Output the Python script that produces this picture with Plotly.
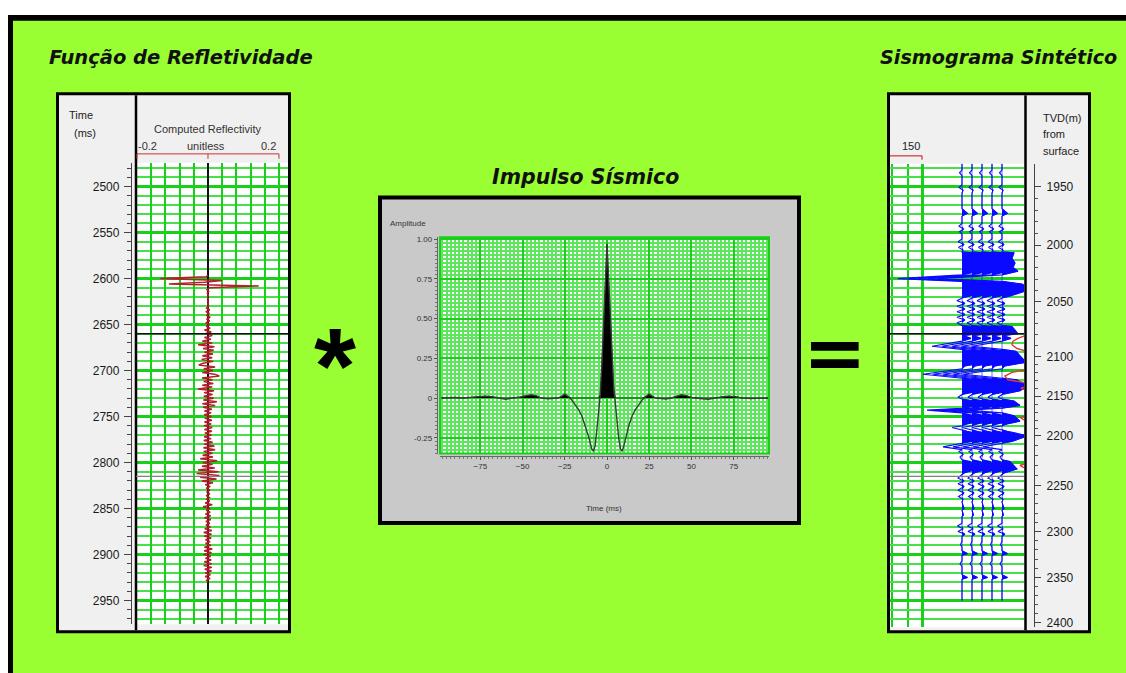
import numpy as np
import plotly.graph_objects as go

W, H = 1126, 673

# ---------------- DATA ----------------
# Reflectivity log (left track), regular sampling
refl_t0 = 2596      # ms
refl_dt = 2         # ms
refl_values = [
    0.0, -0.005, -0.134, 0.040, -0.010, -0.110, 0.143, 0.004, -0.003, 0.002,
    -0.002, 0.001, -0.001, 0.001, -0.001, 0.001, -0.001, 0.002, -0.004, 0.005,
    -0.006, 0.004, -0.005, 0.006, -0.004, 0.005, -0.006, 0.004, -0.005, 0.006,
    -0.010, 0.009, -0.008, 0.012, -0.010, 0.008, -0.016, 0.012, -0.028, 0.018,
    -0.014, 0.016, -0.010, 0.014, -0.016, 0.012, -0.018, 0.015, -0.013, -0.026,
    0.020, -0.012, 0.014, -0.016, 0.018, 0.032, -0.017, 0.013, -0.012, 0.015,
    -0.016, 0.012, -0.028, 0.017, -0.011, 0.013, -0.012, 0.016, -0.013, 0.025,
    -0.016, 0.020, -0.014, 0.011, -0.010, 0.009, -0.011, 0.010, -0.009, 0.011,
    -0.010, 0.009, -0.011, 0.012, -0.010, 0.011, -0.009, 0.010, -0.011, 0.009,
    -0.012, 0.013, -0.011, 0.018, -0.013, 0.020, -0.012, 0.013, -0.015, 0.014,
    -0.022, 0.026, -0.015, 0.013, -0.017, 0.019, -0.028, 0.030, -0.032, 0.032,
    -0.022, 0.024, -0.017, 0.014, -0.008, 0.006, -0.005, 0.006, -0.004, 0.005,
    -0.005, 0.004, -0.004, 0.005, -0.008, 0.012, -0.014, 0.006, -0.005, 0.006,
    -0.007, 0.008, -0.010, 0.008, -0.006, 0.005, -0.006, 0.007, -0.009, 0.011,
    -0.012, 0.010, -0.011, 0.009, -0.007, 0.006, -0.007, 0.008, -0.010, 0.012,
    -0.011, 0.010, -0.012, 0.008, -0.007, 0.009, -0.011, 0.010, -0.012, 0.011,
    -0.009, 0.010, -0.008, 0.007, -0.008, 0.006, -0.004, 0.0,
]
refl_scale_ticks = [-0.2, 0.0, 0.2]

# horizontal marker lines (ms)
marker_black_ms = 2660
marker_grey_ms = 2815

# Seismic wavelet (middle)
wavelet_time = [-98, -90, -85, -80, -76, -72, -68, -64, -60, -56,
                -52, -48, -45, -42, -39, -35, -32, -29, -27, -25,
                -23, -21, -19, -17, -15, -13, -11, -10, -9, -8,
                -7, -6, -5, -4, -3, -2, -1, 0, 1, 2,
                3, 4, 5, 6, 7, 8, 9, 10, 11, 13,
                15, 17, 19, 21, 23, 25, 27, 29, 32, 35,
                38, 41, 44, 47, 50, 55, 60, 64, 68, 72,
                76, 80, 85, 90, 96]
wavelet_amp = [0.0, 0.003, 0.0, 0.005, 0.01, 0.012, 0.008, 0.0, -0.008, 0.0,
               0.005, 0.015, 0.02, 0.015, 0.0, -0.005, -0.003, 0.0, 0.01, 0.025,
               0.01, -0.01, -0.04, -0.07, -0.11, -0.17, -0.24, -0.28, -0.32, -0.335,
               -0.30, -0.20, -0.08, 0.02, 0.22, 0.45, 0.72, 0.97, 0.74, 0.48,
               0.26, 0.06, -0.04, -0.15, -0.26, -0.32, -0.335, -0.30, -0.25, -0.17,
               -0.11, -0.07, -0.04, -0.01, 0.01, 0.025, 0.01, 0.0, -0.003, -0.006,
               0.0, 0.012, 0.02, 0.015, 0.003, -0.003, -0.008, 0.0, 0.008, 0.012,
               0.008, 0.0, -0.003, 0.0, 0.0]
wavelet_xticks = [-75, -50, -25, 0, 25, 50, 75]
wavelet_yticks = [-0.25, 0, 0.25, 0.5, 0.75, 1.0]
wavelet_yticktext = ["-0.25", "0", "0.25", "0.50", "0.75", "1.00"]

# Synthetic seismogram (right), amplitude in trace-spacing units
syn_time = [2475, 2482, 2485, 2488, 2498, 2501, 2504, 2507, 2524, 2529,
            2532, 2540, 2543, 2546, 2549, 2552, 2557, 2560, 2563, 2566,
            2569, 2571, 2572, 2578, 2583, 2588, 2592, 2596, 2600, 2603,
            2606, 2610, 2614, 2619, 2621, 2624, 2627, 2630, 2633, 2636,
            2639, 2642, 2645, 2648, 2651, 2652, 2656, 2660, 2662, 2665,
            2668, 2673.5, 2677, 2679, 2684, 2691, 2695, 2698, 2704, 2708,
            2710, 2717, 2722, 2726, 2729, 2731, 2733, 2738, 2741, 2743,
            2746, 2749, 2755, 2758, 2760, 2762, 2764, 2766, 2771, 2777,
            2779, 2783, 2786, 2788, 2791, 2794, 2797, 2799, 2807, 2811,
            2813, 2817, 2820, 2823, 2826, 2830, 2833, 2837, 2840, 2843,
            2850, 2852, 2857, 2859, 2866, 2869, 2872, 2875, 2878, 2880,
            2886, 2889, 2892, 2896, 2899, 2901, 2907, 2910, 2913, 2922,
            2925, 2927, 2950]
syn_amp = [0, 0, -0.25, 0, 0, -0.3, 0.1, 0, 0, 0.55,
           0, 0, -0.3, 0.15, -0.25, 0, 0, -0.4, 0.2, -0.35,
           0.1, 0, 1.2, 1.0, 1.3, 1.1, 1.6, 0, -6.4, 0,
           2.0, 2.7, 2.2, 0.8, 0, -0.5, 0.3, -0.5, 0.3, -0.5,
           0.3, -0.5, 0.3, -0.5, 0, 1.0, 1.3, 1.6, 0.1, 0.9,
           0, -3.0, 0, 1.4, 1.8, 2.4, 0.3, 0, -3.9, 0,
           1.5, 2.5, 1.8, 0, -0.4, 0, 1.2, 1.8, 0, -3.5,
           0, 1.2, 1.8, 0.5, 0, -1.0, -0.3, 0.5, 2.6, 1.0,
           0, -1.9, 0, -0.3, 0.1, -0.2, 0, 0.8, 1.5, 0.3,
           0, -0.4, 0.2, -0.4, 0.2, -0.4, 0.2, -0.35, 0.1, 0,
           0.2, 0, 0.15, 0, 0, -0.45, 0.1, -0.4, 0.3, 0,
           0, -0.15, 0, 0, 0.55, 0, 0, -0.2, 0, 0,
           0.55, 0, 0]
trace_numbers = [1, 2, 3, 4, 5]

# Red curve of the synthetic track (baseline just beyond the right edge)
red_baseline = 7.8
red_time = [2660, 2665, 2668, 2672, 2676, 2680, 2698, 2702, 2706, 2710,
            2714, 2716, 2719, 2721, 2724, 2748, 2751, 2753, 2756, 2800,
            2803, 2805, 2808]
red_amp = [0, -1.2, -1.7, -1.8, -1.3, 0, 0, -1.8, -2.5, -2.2,
           0, 0, -0.9, -0.5, 0, 0, -1.0, -0.7, 0, 0,
           -1.0, -0.7, 0]

synthetic_track_grid_major = [-3.0]
synthetic_track_grid_minor = [-6.0, -4.4]
synthetic_scale_label = "150"

# Time-depth table for the synthetic track (TVD m from surface -> time ms)
depth_labels = [1950, 2000, 2050, 2100, 2150, 2200, 2250, 2300, 2350, 2400]
depth_time_ms = [2500, 2563.7, 2625.3, 2684.7, 2727.9, 2771.1, 2825.1, 2874.8, 2925.5, 2974.1]

# ---------------- LAYOUT HELPERS ----------------
def px(x):
    return x / W

def py(y):
    return 1 - y / H

MS_PER_PX = 50 / 46.33

def t_at(y):  # time at a pixel row of the log tracks
    return 2500 + (y - 186) * MS_PER_PX

GREEN_BG = "#99ff33"
G_MAJ = "#19cf19"
G_MIN = "#48e048"
G_FINE = "#5ee65e"
PANEL_GREY = "#f0f0f0"
MID_GREY = "#c9c9c9"
TXT = "#222222"
SANS = "Liberation Sans"

def title_font(size):
    return dict(family="DejaVu Sans", size=size, color="#111111", weight="bold", style="italic")

shapes = []

def rect(x0, y0, x1, y1, fill, layer="below", line=None, lw=0):
    shapes.append(dict(type="rect", xref="paper", yref="paper",
                       x0=px(x0), x1=px(x1), y0=py(y1), y1=py(y0),
                       fillcolor=fill, layer=layer,
                       line=dict(color=line or "rgba(0,0,0,0)", width=lw)))

def vline(x, y0, y1, color, width, layer="above"):
    shapes.append(dict(type="line", xref="paper", yref="paper",
                       x0=px(x), x1=px(x), y0=py(y0), y1=py(y1),
                       line=dict(color=color, width=width), layer=layer))

# outer frame
rect(8, 13, 1160, 700, "black")
rect(13, 19, 1160, 700, GREEN_BG)

# left panel
rect(56, 91, 291, 636, "black")
rect(59, 94, 288, 633, PANEL_GREY)
rect(136, 162, 288, 627, "white")
# middle panel
rect(378, 195, 801, 527, "black")
rect(382, 199, 797, 523, MID_GREY)
rect(440, 237, 769, 455, "white")
# right panel
rect(887, 91, 1091, 636, "black")
rect(890, 94, 1088, 633, PANEL_GREY)
rect(890, 163, 1024, 630, "white")

# dividers
vline(136, 94, 633, "black", 2.5)
vline(1025.5, 94, 633, "black", 2.5)

# marker lines across both log tracks
for xr, yr in (("x", "y"), ("x4", "y4")):
    shapes.append(dict(type="line", xref=f"{xr} domain", yref=yr, x0=0, x1=1,
                       y0=marker_black_ms, y1=marker_black_ms,
                       line=dict(color="#111111", width=1.6), layer="above"))
    shapes.append(dict(type="line", xref=f"{xr} domain", yref=yr, x0=0, x1=1,
                       y0=marker_grey_ms, y1=marker_grey_ms,
                       line=dict(color="#808080", width=1.3), layer="above"))

# reflectivity scale bar (header)
RED = "#cc3333"
shapes.append(dict(type="line", xref="x", yref="paper", x0=refl_scale_ticks[0], x1=refl_scale_ticks[-1],
                   y0=py(153), y1=py(153), line=dict(color=RED, width=1)))
for v in refl_scale_ticks:
    shapes.append(dict(type="line", xref="x", yref="paper", x0=v, x1=v,
                       y0=py(153), y1=py(158), line=dict(color=RED, width=1)))
# synthetic scale bar (header)
shapes.append(dict(type="line", xref="x4", yref="paper", x0=-6.2, x1=synthetic_track_grid_major[0],
                   y0=py(155), y1=py(155), line=dict(color=RED, width=1.2)))
shapes.append(dict(type="line", xref="x4", yref="paper", x0=synthetic_track_grid_major[0],
                   x1=synthetic_track_grid_major[0], y0=py(155), y1=py(159),
                   line=dict(color=RED, width=1.2)))

# green border around wavelet plot
shapes.append(dict(type="rect", xref="x3 domain", yref="y3 domain", x0=0, x1=1, y0=0, y1=1,
                   line=dict(color=G_MAJ, width=2), layer="above"))

# ---------------- TRACES ----------------
fig = go.Figure()

refl_time = refl_t0 + refl_dt * np.arange(len(refl_values))
fig.add_trace(go.Scatter(x=refl_values, y=refl_time, mode="lines",
                         line=dict(color="#b3202a", width=1.5),
                         xaxis="x", yaxis="y", hoverinfo="skip"))

wt = np.array(wavelet_time, dtype=float)
wa = np.array(wavelet_amp, dtype=float)
fig.add_trace(go.Scatter(x=wt, y=np.maximum(wa, 0), mode="lines", fill="tozeroy",
                         fillcolor="black", line=dict(color="black", width=0.5),
                         xaxis="x3", yaxis="y3", hoverinfo="skip"))
fig.add_trace(go.Scatter(x=wt, y=wa, mode="lines", line=dict(color="#3a3a3a", width=1.4),
                         xaxis="x3", yaxis="y3", hoverinfo="skip"))

st = np.array(syn_time, dtype=float)
sa = np.array(syn_amp, dtype=float)
BLUE = "#0a0aff"
for k in trace_numbers:
    fig.add_trace(go.Scatter(x=k + np.maximum(sa, 0), y=st, mode="lines", fill="toself",
                             fillcolor=BLUE, line=dict(color=BLUE, width=0.6),
                             xaxis="x4", yaxis="y4", hoverinfo="skip"))
for k in trace_numbers:
    fig.add_trace(go.Scatter(x=k + sa, y=st, mode="lines", line=dict(color=BLUE, width=1.1),
                             xaxis="x4", yaxis="y4", hoverinfo="skip"))

fig.add_trace(go.Scatter(x=red_baseline + np.array(red_amp), y=red_time, mode="lines",
                         line=dict(color="#e03a3a", width=1.4),
                         xaxis="x4", yaxis="y4", hoverinfo="skip"))

# invisible carrier for the depth axis
fig.add_trace(go.Scatter(x=[trace_numbers[0]] * len(depth_time_ms), y=depth_time_ms, mode="markers",
                         marker=dict(size=1, opacity=0), xaxis="x4", yaxis="y5", hoverinfo="skip"))

# minor depth ticks every 10 m
minor_depths = [d for d in range(depth_labels[0] + 10, depth_labels[-1], 10) if d % 50]
minor_depth_times = list(np.interp(minor_depths, depth_labels, depth_time_ms))

# ---------------- ANNOTATIONS ----------------
def ann(text, x, y, size=11, xanchor="center", color=TXT, family=SANS):
    return dict(text=text, x=px(x), y=py(y), xref="paper", yref="paper", showarrow=False,
                xanchor=xanchor, yanchor="middle", font=dict(family=family, size=size, color=color))

annotations = [
    dict(text="Função de Refletividade", x=px(47), y=py(56), xref="paper", yref="paper",
         showarrow=False, xanchor="left", yanchor="middle", font=title_font(19.5)),
    dict(text="Sismograma Sintético", x=px(1119), y=py(56), xref="paper", yref="paper",
         showarrow=False, xanchor="right", yanchor="middle", font=title_font(19.2)),
    dict(text="Impulso Sísmico", x=px(585), y=py(176), xref="paper", yref="paper",
         showarrow=False, xanchor="center", yanchor="middle", font=title_font(20.5)),
    dict(text="*", x=px(335), y=py(366), xref="paper", yref="paper", showarrow=False,
         xanchor="center", yanchor="middle",
         font=dict(family=SANS, size=108, color="black", weight="bold")),
    dict(text="=", x=px(835), y=py(353), xref="paper", yref="paper", showarrow=False,
         xanchor="center", yanchor="middle",
         font=dict(family="DejaVu Sans", size=76, color="black", weight="bold")),
    ann("Time", 81, 114),
    ann("(ms)", 85, 132),
    ann("Computed Reflectivity", 207, 128, color="#333333"),
    ann("-0.2", 136, 145, xanchor="left", color="#333333"),
    ann("unitless", 206, 145, color="#333333"),
    ann("0.2", 278, 145, xanchor="right", color="#333333"),
    ann("Amplitude", 388, 223, size=8, xanchor="left", color="#333333"),
    ann("Time (ms)", 604, 510, size=8, color="#333333"),
    ann("TVD(m)", 1041, 117, xanchor="left"),
    ann("from", 1041, 133, xanchor="left"),
    ann("surface", 1041, 150, xanchor="left"),
    ann(synthetic_scale_label, 911, 145),
]

# ---------------- AXES ----------------
tick_font = dict(family=SANS, size=12, color="#1a1a1a")
small_font = dict(family=SANS, size=8, color="#333333")

layout = dict(
    width=W, height=H, margin=dict(l=0, r=0, t=0, b=0),
    paper_bgcolor="white", plot_bgcolor="rgba(0,0,0,0)",
    showlegend=False, shapes=shapes, annotations=annotations,
    # left reflectivity track
    xaxis=dict(domain=[px(136), px(288)], range=[-0.2028, 0.2254], anchor="y",
               tick0=-0.2, dtick=0.04, showticklabels=False, ticks="",
               showgrid=True, gridcolor=G_MAJ, gridwidth=2,
               zeroline=True, zerolinecolor="#111111", zerolinewidth=1.5, showline=False),
    yaxis=dict(domain=[py(627), py(162)], range=[t_at(627), t_at(162)], anchor="free",
               position=px(131), side="left", tick0=0, dtick=50, ticks="outside", ticklen=7,
               tickwidth=1.3, tickcolor="#444444", showline=True, linecolor="#444444", linewidth=1.3,
               showgrid=True, gridcolor=G_MAJ, gridwidth=2.5, zeroline=False, tickfont=tick_font,
               ticklabelstandoff=2,
               minor=dict(tick0=0, dtick=10, ticks="outside", ticklen=4, tickcolor="#444444",
                          showgrid=True, gridcolor=G_MIN, gridwidth=1.5)),
    # middle wavelet
    xaxis3=dict(domain=[px(440), px(769)], range=[(440 - 607) / 1.689, (769 - 607) / 1.689],
                anchor="free", position=py(457), tickmode="array", tickvals=wavelet_xticks,
                ticks="outside", ticklen=3, tickcolor="#555555", showline=True, linecolor="#666666",
                linewidth=1.3, showgrid=True, gridcolor=G_MAJ, gridwidth=2, zeroline=False,
                tickfont=small_font,
                minor=dict(tick0=0, dtick=2.5, ticks="outside", ticklen=2, tickcolor="#777777",
                           showgrid=True, gridcolor=G_FINE, gridwidth=2)),
    yaxis3=dict(domain=[py(455), py(237)], range=[-0.35, (399 - 237) / 160], anchor="free",
                position=px(437), tickmode="array", tickvals=wavelet_yticks, ticktext=wavelet_yticktext,
                ticks="outside", ticklen=3, tickcolor="#555555", showline=True, linecolor="#666666",
                linewidth=1.3, showgrid=True, gridcolor=G_MAJ, gridwidth=2, zeroline=False,
                tickfont=small_font,
                minor=dict(tick0=0, dtick=0.025, ticks="outside", ticklen=2, tickcolor="#777777",
                           showgrid=True, gridcolor=G_FINE, gridwidth=2)),
    # right synthetic track
    xaxis4=dict(domain=[px(890), px(1024)], range=[-6.2, 7.2], anchor="y4",
                tickmode="array", tickvals=synthetic_track_grid_major, showticklabels=False, ticks="",
                showgrid=True, gridcolor=G_MAJ, gridwidth=2.5, zeroline=False,
                minor=dict(tickmode="array", tickvals=synthetic_track_grid_minor, showgrid=True,
                           gridcolor=G_MAJ, gridwidth=2)),
    yaxis4=dict(domain=[py(630), py(163)], range=[t_at(630), t_at(163)], anchor="x4",
                tick0=0, dtick=50, showticklabels=False, ticks="",
                showgrid=True, gridcolor=G_MAJ, gridwidth=2.5, zeroline=False,
                minor=dict(tick0=0, dtick=10, showgrid=True, gridcolor=G_MIN, gridwidth=1.5)),
    yaxis5=dict(overlaying="y4", range=[t_at(630), t_at(163)], anchor="free", position=px(1034),
                side="right", tickmode="array", tickvals=depth_time_ms,
                ticktext=[str(d) for d in depth_labels], ticks="outside", ticklen=6, tickwidth=1.3,
                tickcolor="#444444", showline=True, linecolor="#444444", linewidth=1.3,
                showgrid=False, zeroline=False, tickfont=tick_font, ticklabelstandoff=3,
                minor=dict(tickmode="array", tickvals=minor_depth_times, ticks="outside", ticklen=3,
                           tickcolor="#555555", showgrid=False)),
)
fig.update_layout(**layout)
fig.write_html("out.html", config={"displayModeBar": False},
               post_script="document.body.style.margin='0px';document.body.style.padding='0px';"
                           "document.documentElement.style.overflow='hidden';")
